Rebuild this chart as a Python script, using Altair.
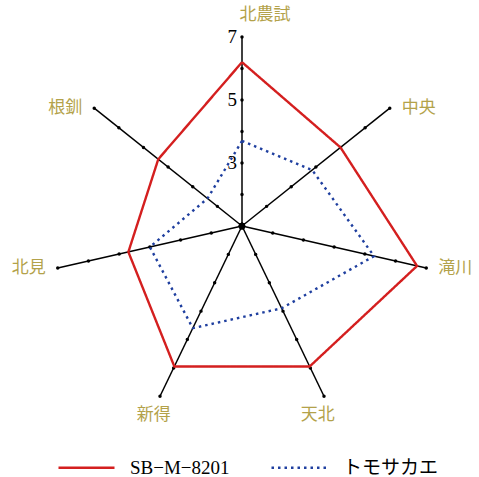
import altair as alt
import pandas as pd

# Radar axes, clockwise from the top
axes = ["北農試", "中央", "滝川", "天北", "新得", "北見", "根釧"]
series_names = ["SB−M−8201", "トモサカエ"]
sb_values = [6.2, 5.0, 6.7, 5.95, 5.95, 4.7, 4.4]
tomo_values = [3.7, 3.85, 5.3, 3.9, 4.6, 4.0, 2.4]
tick_values = [2, 3, 4, 5, 6, 7]
scale_labels = [3, 5, 7]
r_min, r_max = 1, 7

n = len(axes)
ang = f"datum.k * 2 * PI / {n}"
R = r_max - r_min

# closed polygons: repeat the first vertex at the end
rows = []
for name, vals in zip(series_names, [sb_values, tomo_values]):
    for k in range(n + 1):
        rows.append({"series": name, "k": k, "v": vals[k % n]})
poly = pd.DataFrame(rows)

spokes = pd.DataFrame({"k": list(range(n)), "axis": axes})
ticks = pd.DataFrame([{"k": k, "v": t} for k in range(n) for t in tick_values])
nums = pd.DataFrame({"v": scale_labels, "k": 0})

W, H = 479, 477
px = 31.5  # pixels per unit
cx, cy = 242, 226
xs = alt.Scale(domain=[-cx / px, (W - cx) / px], nice=False, zero=False)
ys = alt.Scale(domain=[-(H - cy) / px, cy / px], nice=False, zero=False)
X = lambda f: alt.X(f, type="quantitative", scale=xs, axis=None)
Y = lambda f: alt.Y(f, type="quantitative", scale=ys, axis=None)

spoke_layer = alt.Chart(spokes).transform_calculate(
    x0="0", y0="0",
    x1=f"{R} * sin({ang})", y1=f"{R} * cos({ang})",
).mark_rule(color="black", strokeWidth=1.5).encode(
    x=X("x0"), y=Y("y0"), x2="x1:Q", y2="y1:Q"
)

tick_layer = alt.Chart(ticks).transform_calculate(
    x=f"(datum.v - {r_min}) * sin({ang})", y=f"(datum.v - {r_min}) * cos({ang})"
).mark_circle(color="black", size=12, opacity=1).encode(x=X("x"), y=Y("y"))

center = alt.Chart(spokes).transform_calculate(x="0", y="0").mark_circle(
    color="black", size=40, opacity=1
).encode(x=X("x"), y=Y("y"))

lines = alt.Chart(poly).transform_calculate(
    x=f"(datum.v - {r_min}) * sin({ang})", y=f"(datum.v - {r_min}) * cos({ang})"
).mark_line(strokeWidth=2.4, strokeCap="butt").encode(
    x=X("x"), y=Y("y"), order="k:Q",
    color=alt.Color("series:N", sort=series_names,
                    scale=alt.Scale(domain=series_names, range=["#d41f1f", "#1f3f9f"]),
                    title=None),
    strokeDash=alt.StrokeDash("series:N", sort=series_names,
                              scale=alt.Scale(domain=series_names, range=[[1, 0], [2.5, 4]]),
                              title=None),
)

# axis names: beside the end of side spokes, above/below the top and bottom ones
labels = alt.Chart(spokes).transform_calculate(
    s=f"sin({ang})", c=f"cos({ang})",
).transform_calculate(
    side="abs(datum.s) > 0.7",
    x=f"{R} * datum.s + (abs(datum.s) > 0.7 ? 0.92 * (datum.s > 0 ? 1 : -1) : (datum.c > 0 ? 0.73 : -0.2))",
    y=f"{R} * datum.c + (abs(datum.s) > 0.7 ? 0 : (datum.c > 0 ? 0.7 : -0.58))",
).mark_text(font="Noto Sans CJK JP", fontSize=17, color="#b3a24a",
            align="center", baseline="middle").encode(x=X("x"), y=Y("y"), text="axis:N")

num_layer = alt.Chart(nums).transform_calculate(
    x="0", y=f"datum.v - {r_min}"
).mark_text(font="Liberation Serif", fontSize=19, color="black",
            align="right", baseline="middle", dx=-5).encode(x=X("x"), y=Y("y"), text="v:Q")

chart = alt.layer(spoke_layer, tick_layer, center, lines, labels, num_layer).properties(
    width=W, height=H, padding=0, autosize=alt.AutoSizeParams(type="none"),
    background="white",
).configure_view(stroke=None).configure_legend(
    orient="none", legendX=57, legendY=438, direction="horizontal",
    symbolType="stroke", symbolSize=3136, symbolStrokeWidth=2.4,
    labelFont="Liberation Serif, Noto Sans CJK JP", labelFontSize=19, labelColor="black",
    labelOffset=14, columnPadding=36, padding=0, labelLimit=300,
)

chart.save("out.html", embed_options={"renderer": "svg", "actions": False})
